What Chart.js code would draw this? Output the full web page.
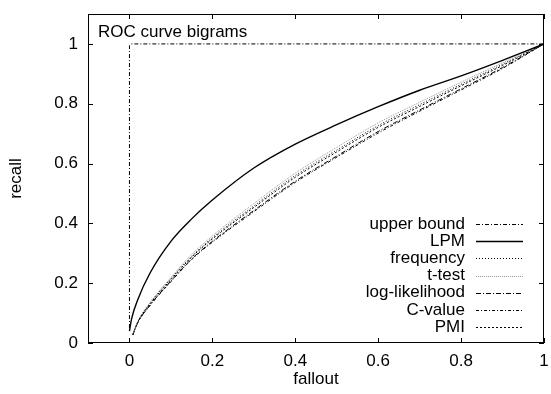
<!DOCTYPE html>
<html>
<head>
<meta charset="utf-8">
<script src="https://cdn.jsdelivr.net/npm/chart.js@4/dist/chart.umd.min.js"></script>
<style>
  html, body { margin: 0; padding: 0; background: #fff; }
  #wrap { width: 551px; height: 394px; }
</style>
</head>
<body>
<div id="wrap"><canvas id="c"></canvas></div>
<script>
// tick values
const xTicks = [0, 0.2, 0.4, 0.6, 0.8, 1];
const yTicks = [0, 0.2, 0.4, 0.6, 0.8, 1];

// upper bound
const upperFallout = [0, 0, 0.005, 1];
const upperRecall = [0.05, 0.995, 1, 1];

// LPM
const lpmFallout = [0, 0.005, 0.02, 0.05, 0.1, 0.15, 0.2, 0.3, 0.4, 0.5, 0.6, 0.7, 0.8, 0.9, 1];
const lpmRecall = [0.04, 0.08, 0.145, 0.235, 0.34, 0.415, 0.478, 0.585, 0.665, 0.73, 0.79, 0.845, 0.893, 0.945, 1];

// the other measures share fallout points
const fallout = [0.008, 0.02, 0.05, 0.1, 0.15, 0.2, 0.3, 0.4, 0.5, 0.6, 0.7, 0.8, 0.9, 1];
const frequency = [0.027, 0.07, 0.133, 0.215, 0.29, 0.352, 0.458, 0.56, 0.645, 0.727, 0.797, 0.865, 0.932, 1];
const tTest = [0.027, 0.072, 0.136, 0.219, 0.296, 0.358, 0.466, 0.568, 0.654, 0.736, 0.805, 0.872, 0.937, 1];
const logLikelihood = [0.027, 0.068, 0.127, 0.207, 0.281, 0.34, 0.443, 0.541, 0.625, 0.707, 0.779, 0.85, 0.921, 1];
const cValue = [0.027, 0.068, 0.126, 0.205, 0.279, 0.337, 0.439, 0.537, 0.621, 0.702, 0.775, 0.846, 0.918, 1];
const pmi = [0.027, 0.07, 0.131, 0.212, 0.287, 0.348, 0.453, 0.554, 0.639, 0.721, 0.791, 0.86, 0.928, 1];

const FONT = 'Liberation Sans, Arial, Helvetica, sans-serif';

const pts = (xs, ys) => xs.map((v, i) => ({ x: v, y: ys[i] }));

const line = (label, data, dash, color, width) => ({
  label: label,
  data: data,
  showLine: true,
  borderColor: color || '#000',
  borderWidth: width || 1,
  borderDash: dash,
  pointRadius: 0,
  fill: false,
  cubicInterpolationMode: 'monotone'
});

const datasets = [
  Object.assign(line('upper bound', pts(upperFallout, upperRecall), [4, 2, 1, 2]), { cubicInterpolationMode: 'default', tension: 0 }),
  line('LPM', pts(lpmFallout, lpmRecall), [], '#000', 1.4),
  line('frequency', pts(fallout, frequency), [1, 2]),
  line('t-test', pts(fallout, tTest), [1, 1], '#999'),
  line('log-likelihood', pts(fallout, logLikelihood), [5, 2, 1, 2]),
  line('C-value', pts(fallout, cValue), [3, 2, 1, 2]),
  line('PMI', pts(fallout, pmi), [2, 2])
];

// gnuplot-like frame, inward ticks, inner title and legend
const gnuFrame = {
  id: 'gnuFrame',
  afterDatasetsDraw(chart) {
    const { ctx, chartArea: a, scales: { x, y } } = chart;
    ctx.save();
    ctx.strokeStyle = '#000';
    ctx.lineWidth = 1;
    ctx.setLineDash([]);
    ctx.strokeRect(a.left + 0.5, a.top + 0.5, a.width - 1, a.height - 1);
    ctx.beginPath();
    xTicks.forEach(v => {
      const px = Math.round(x.getPixelForValue(v)) + 0.5;
      ctx.moveTo(px, a.bottom); ctx.lineTo(px, a.bottom - 5);
      ctx.moveTo(px, a.top); ctx.lineTo(px, a.top + 5);
    });
    yTicks.forEach(v => {
      const py = Math.round(y.getPixelForValue(v)) + 0.5;
      ctx.moveTo(a.left, py); ctx.lineTo(a.left + 5, py);
      ctx.moveTo(a.right, py); ctx.lineTo(a.right - 5, py);
    });
    ctx.stroke();

    ctx.fillStyle = '#000';
    ctx.font = '17px ' + FONT;
    ctx.textBaseline = 'alphabetic';
    ctx.textAlign = 'left';
    ctx.fillText('ROC curve bigrams', a.left + 10, a.top + 23);

    ctx.textAlign = 'right';
    ctx.textBaseline = 'middle';
    chart.data.datasets.forEach((ds, i) => {
      const ry = a.bottom - 119 + i * 17.2;
      ctx.fillStyle = '#000';
      ctx.fillText(ds.label, a.right - 79, ry);
      ctx.beginPath();
      ctx.strokeStyle = ds.borderColor;
      ctx.lineWidth = ds.borderWidth;
      ctx.setLineDash(ds.borderDash);
      ctx.moveTo(a.right - 68, Math.round(ry) + 0.5);
      ctx.lineTo(a.right - 21, Math.round(ry) + 0.5);
      ctx.stroke();
    });
    ctx.restore();
  }
};

new Chart(document.getElementById('c'), {
  type: 'scatter',
  data: { datasets: datasets },
  plugins: [gnuFrame],
  options: {
    responsive: true,
    maintainAspectRatio: false,
    animation: false,
    layout: { padding: { top: 14, right: 7, left: 0, bottom: 0 } },
    plugins: { legend: { display: false }, tooltip: { enabled: false } },
    scales: {
      x: {
        type: 'linear',
        min: -0.1,
        max: 1,
        grid: { display: false, drawTicks: false },
        border: { display: false },
        afterBuildTicks: s => { s.ticks = xTicks.map(v => ({ value: v })); },
        afterFit: s => { s.height = 51; s.paddingLeft = 0; s.paddingRight = 0; },
        ticks: { color: '#000', padding: 8, maxRotation: 0, font: { family: FONT, size: 17 }, callback: v => String(v) },
        title: { display: true, text: 'fallout', color: '#000', padding: { top: 4, bottom: 4 }, font: { family: FONT, size: 17 } }
      },
      y: {
        type: 'linear',
        min: 0,
        max: 1.1,
        grid: { display: false, drawTicks: false },
        border: { display: false },
        afterBuildTicks: s => { s.ticks = yTicks.map(v => ({ value: v })); },
        afterFit: s => { s.width = 88; s.paddingTop = 0; s.paddingBottom = 0; },
        ticks: { color: '#000', padding: 10, font: { family: FONT, size: 17 }, callback: v => String(v) },
        title: { display: true, text: 'recall', color: '#000', padding: { top: 6, bottom: 6 }, font: { family: FONT, size: 17 } }
      }
    }
  }
});
</script>
</body>
</html>
